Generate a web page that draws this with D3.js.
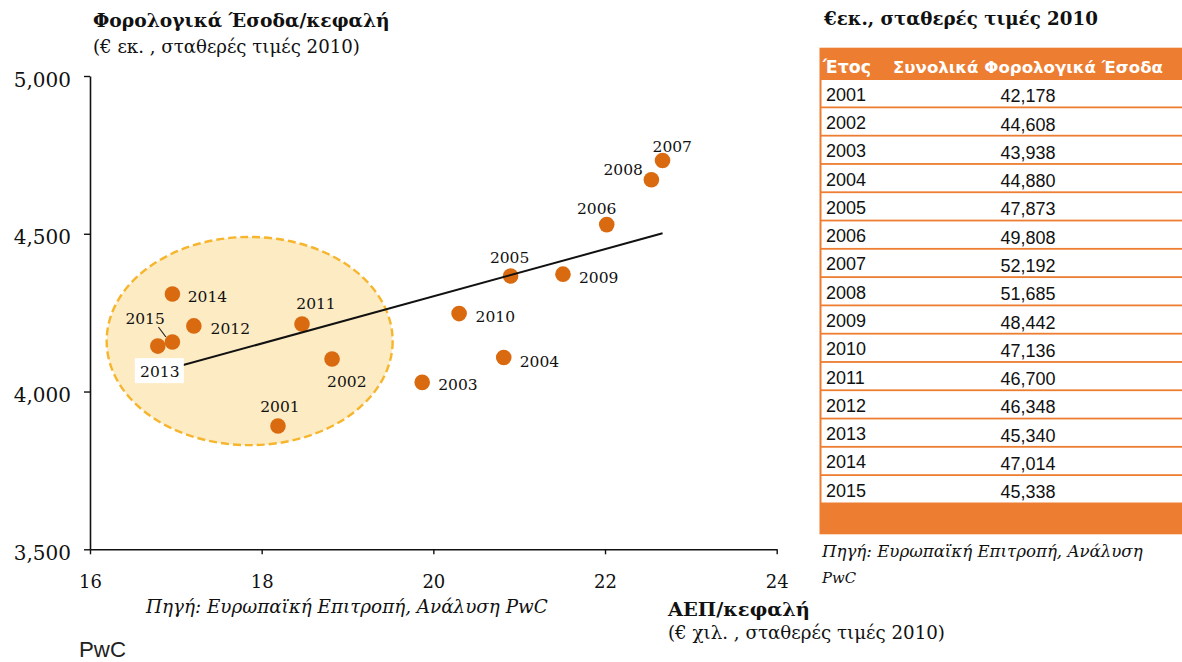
<!DOCTYPE html>
<html><head><meta charset="utf-8">
<script src="https://cdn.jsdelivr.net/npm/d3@7"></script>
<style>body{margin:0;background:#fff} svg{display:block}</style>
</head><body>
<svg id="c" width="1182" height="662"></svg>
<script>
// ---------------- DATA ----------------
const years        = [2001,2002,2003,2004,2005,2006,2007,2008,2009,2010,2011,2012,2013,2014,2015];
const gdpPerCapita = [18.19,18.82,19.87,20.82,20.90,22.02,22.67,22.54,21.51,20.30,18.47,17.21,16.79,16.96,16.96]; // € χιλ.
const taxPerCapita = [3891,4103,4029,4108,4366,4529,4732,4671,4372,4247,4214,4208,4144,4309,4157];        // € 
const totalTaxRevenue = [42178,44608,43938,44880,47873,49808,52192,51685,48442,47136,46700,46348,45340,47014,45338]; // € εκ.
const xTicks = [16,18,20,22,24];
const yTicks = [3500,4000,4500,5000];
const highlight = {cx:17.86, cy:4160, rx:1.666, ry:330}; // data units (2011-2015 cluster)

// ---------------- LAYOUT ----------------
const W = 1182, H = 662;
const SERIF = "'DejaVu Serif', serif", SANS = "'Liberation Sans', Arial, sans-serif", VERD = "'DejaVu Sans', Verdana, sans-serif";
const DOT = "#DA6A10", ORANGE = "#ED7D31";
const svg = d3.select("#c");

const x = d3.scaleLinear().domain([16,24]).range([90,776.7]);
const y = d3.scaleLinear().domain([3500,5000]).range([549.3,76]);

function fit(sel, w){
  sel.each(function(){
    const fs = parseFloat(this.getAttribute("font-size"));
    const m = this.getComputedTextLength();
    if (m>0) this.setAttribute("font-size", (fs*w/m).toFixed(2));
  });
  return sel;
}
function txt(g, t, px, py, fs, fam, opts={}){
  const s = g.append("text").attr("x",px).attr("y",py).attr("font-size",fs)
    .attr("font-family",fam).attr("fill",opts.fill||"#111").text(t);
  if (opts.weight) s.attr("font-weight",opts.weight);
  if (opts.style) s.attr("font-style",opts.style);
  if (opts.anchor) s.attr("text-anchor",opts.anchor);
  if (opts.w) fit(s, opts.w);
  return s;
}

// ---------------- SCATTER ----------------
const g = svg.append("g");

// highlight ellipse
g.append("ellipse")
  .attr("cx", x(highlight.cx)).attr("cy", y(highlight.cy))
  .attr("rx", x(highlight.cx+highlight.rx)-x(highlight.cx))
  .attr("ry", y(highlight.cy)-y(highlight.cy+highlight.ry))
  .attr("fill","#FDEBC4").attr("stroke","#F6B52C").attr("stroke-width",2.4)
  .attr("stroke-dasharray","8,4");

// axes
const ax = g.append("g").attr("transform",`translate(0,${y(3500)})`)
  .call(d3.axisBottom(x).tickValues(xTicks).tickSize(5).tickSizeOuter(0).tickFormat(d3.format("d")));
const ay = g.append("g").attr("transform",`translate(${x(16)},0)`)
  .call(d3.axisLeft(y).tickValues(yTicks).tickSize(6).tickSizeOuter(0).tickFormat(d3.format(",")));
[ax,ay].forEach(a=>{
  a.select(".domain").attr("stroke","#111").attr("stroke-width",1.6);
  a.selectAll(".tick line").attr("stroke","#111").attr("stroke-width",1.4);
  a.selectAll(".tick text").attr("font-family",SERIF).attr("font-size",18).attr("fill","#111");
});
ax.selectAll(".tick text").attr("dy",null).attr("y",null).attr("transform","translate(0,39)");
ay.selectAll(".tick text").attr("font-size",20).attr("x",-19).attr("dy","0.5em");

const pts = years.map((yr,i)=>({year:yr, gx:gdpPerCapita[i], tx:taxPerCapita[i]}));

// regression trend line (OLS)
const mx = d3.mean(pts,d=>d.gx), my = d3.mean(pts,d=>d.tx);
const slope = d3.sum(pts,d=>(d.gx-mx)*(d.tx-my))/d3.sum(pts,d=>(d.gx-mx)**2);
const icpt = my - slope*mx;
const [xmin,xmax] = d3.extent(pts,d=>d.gx);

// dots
g.selectAll("circle.pt").data(pts).join("circle").attr("class","pt")
  .attr("cx",d=>x(d.gx)).attr("cy",d=>y(d.tx)).attr("r",7.8).attr("fill",DOT);

g.append("line")
  .attr("x1",x(xmin)).attr("y1",y(icpt+slope*xmin))
  .attr("x2",x(xmax)).attr("y2",y(icpt+slope*xmax))
  .attr("stroke","#111").attr("stroke-width",2);

// point labels
const place = {
  2001:{a:"middle",dx:2,dy:-13.5}, 2002:{a:"start",dx:-5,dy:27.7}, 2003:{a:"start",dx:16,dy:8},
  2004:{a:"start",dx:16,dy:9.5},   2005:{a:"middle",dx:-1,dy:-13},  2006:{a:"middle",dx:-10,dy:-11},
  2007:{a:"start",dx:-10,dy:-9},   2008:{a:"end",dx:-8.5,dy:-4.7},  2009:{a:"start",dx:16,dy:9},
  2010:{a:"start",dx:16.5,dy:8},   2011:{a:"middle",dx:14,dy:-15},  2012:{a:"start",dx:16.7,dy:8},
  2013:{a:"middle",dx:2,dy:31,box:true}, 2014:{a:"start",dx:15.3,dy:7.7},
  2015:{a:"middle",dx:-27.3,dy:-18,leader:true}
};
pts.forEach(d=>{
  const p = place[d.year], cx = x(d.gx), cy = y(d.tx);
  if (p.box){
    g.append("rect").attr("x",cx-23).attr("y",cy+12).attr("width",49).attr("height",25).attr("fill","#fff");
  }
  if (p.leader){
    g.append("line").attr("x1",cx-14).attr("y1",cy-15).attr("x2",cx-6.5).attr("y2",cy-5)
      .attr("stroke","#222").attr("stroke-width",1.2);
  }
  txt(g, String(d.year), cx+p.dx, cy+p.dy, 15.5, SERIF, {anchor:p.a, fill:"#111"});
});

// titles and notes
txt(svg, "Φορολογικά Έσοδα/κεφαλή", 93, 26.5, 17, SERIF, {weight:"bold", w:297});
txt(svg, "(€ εκ. , σταθερές τιμές 2010)", 93, 53, 17, SERIF, {w:267});
txt(svg, "Πηγή: Ευρωπαϊκή Επιτροπή, Ανάλυση PwC", 146, 613, 15, SERIF, {style:"italic", w:402});
txt(svg, "ΑΕΠ/κεφαλή", 668, 616, 18, SERIF, {weight:"bold", w:142});
txt(svg, "(€ χιλ. , σταθερές τιμές 2010)", 668, 638.5, 17, SERIF, {w:277});
txt(svg, "PwC", 79, 657, 20, SANS, {fill:"#222", w:47});

// ---------------- TABLE ----------------
const t = svg.append("g");
const tX0 = 819.5, tX1 = W, hdrTop = 47.7, hdrBot = 79, rowsBot = 503.3, footBot = 534.3;
t.append("rect").attr("x",tX0).attr("y",hdrTop).attr("width",tX1-tX0).attr("height",footBot-hdrTop).attr("fill",ORANGE);
const rs = d3.scaleBand().domain(years).range([hdrBot,rowsBot]);
t.selectAll("rect.row").data(years).join("rect").attr("class","row")
  .attr("x",tX0+2).attr("y",d=>rs(d)+1).attr("width",tX1-tX0-2).attr("height",rs.bandwidth()-1.8)
  .attr("fill","#fff");
txt(t, "Έτος", 823, 72.5, 16, VERD, {weight:"bold", fill:"#fff", w:48});
txt(t, "Συνολικά Φορολογικά Έσοδα", 893, 72.5, 16, VERD, {weight:"bold", fill:"#fff", w:270});
const fmt = d3.format(",");
years.forEach((yr,i)=>{
  txt(t, String(yr), 826, rs(yr)+21.7, 18, SANS, {fill:"#111"});
  txt(t, fmt(totalTaxRevenue[i]), 1028, rs(yr)+23.3, 18, SANS, {anchor:"middle", fill:"#111"});
});
txt(svg, "€εκ., σταθερές τιμές 2010", 824, 25, 17, SERIF, {weight:"bold", w:274});
txt(svg, "Πηγή: Ευρωπαϊκή Επιτροπή, Ανάλυση", 822, 557, 14, SERIF, {style:"italic", w:321});
txt(svg, "PwC", 822, 583, 14, SERIF, {style:"italic", w:34});
</script>
</body></html>
